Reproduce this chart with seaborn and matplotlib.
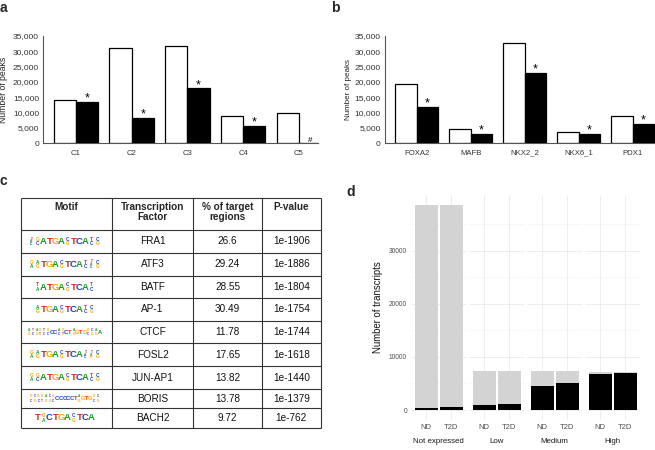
import numpy as np
import pandas as pd
import matplotlib
matplotlib.use("Agg")
import matplotlib.pyplot as plt
import seaborn as sns

# ---- data ----
clusters = ["C1", "C2", "C3", "C4", "C5"]
peaks_a_nd = [14250, 31000, 31750, 8900, 9750]
peaks_a_t2d = [13600, 8400, 17900, 5750, 0]
marks_a = ["*", "*", "*", "*", "#"]

tfs = ["FOXA2", "MAFB", "NKX2_2", "NKX6_1", "PDX1"]
peaks_b_nd = [19300, 4650, 32700, 3780, 8970]
peaks_b_t2d = [12000, 3130, 22900, 3130, 6370]
marks_b = ["*", "*", "*", "*", "*"]

motif_tf = ["FRA1", "ATF3", "BATF", "AP-1", "CTCF", "FOSL2", "JUN-AP1", "BORIS", "BACH2"]
motif_pct = ["26.6", "29.24", "28.55", "30.49", "11.78", "17.65", "13.82", "13.78", "9.72"]
motif_p = ["1e-1906", "1e-1886", "1e-1804", "1e-1754", "1e-1744", "1e-1618", "1e-1440", "1e-1379", "1e-762"]
# logo positions: one letter = dominant base, several letters = mixed position
motif_logos = [
    ["TAC", "GC", "A", "T", "G", "A", "CG", "T", "C", "A", "TC", "CG"],
    ["GA", "AG", "T", "G", "A", "CG", "T", "C", "A", "TC", "TAC", "CG"],
    ["TA", "A", "T", "G", "A", "CG", "T", "C", "A", "TC"],
    ["AG", "T", "G", "A", "CG", "T", "C", "A", "TC", "CG"],
    ["AG", "TC", "AG", "GT", "TC", "GC", "C", "C", "AC", "GT", "C", "T", "AG", "G", "T", "G", "GC", "CG", "AG", "A"],
    ["GA", "AG", "T", "G", "A", "CG", "T", "C", "A", "TAC", "TAG", "CG"],
    ["GA", "GC", "A", "T", "G", "A", "CG", "T", "C", "A", "TC", "CG"],
    ["GC", "CG", "GC", "GT", "AG", "CG", "GC", "C", "C", "C", "C", "C", "T", "AG", "G", "T", "G", "GC", "CG"],
    ["T", "GA", "C", "T", "G", "A", "CG", "T", "C", "A"],
]
logo_colors = {"A": "#1e9a2a", "C": "#1f3fc8", "G": "#f2a900", "T": "#e0231c"}

levels = ["Not expressed", "Low", "Medium", "High"]
conditions = ["ND", "T2D"]
total_tx = [38600, 7280, 7280, 7220]
bound_nd = [310, 880, 4460, 6780]
bound_t2d = [560, 1130, 5020, 6970]

W, H = 655, 450
sns.set_style("white")
plt.rcParams["font.family"] = ["Liberation Sans", "DejaVu Sans"]

fig = plt.figure(figsize=(W / 100, H / 100), dpi=100)


def px_axes(x0, y0, x1, y1):
    return fig.add_axes([x0 / W, 1 - y1 / H, (x1 - x0) / W, (y1 - y0) / H])


def peak_panel(ax, cats, nd, t2d, marks, xlim, ylab_x, fs_lab):
    df = pd.DataFrame({"cat": cats * 2, "grp": ["ND"] * len(cats) + ["T2D"] * len(cats),
                       "peaks": nd + t2d})
    sns.barplot(data=df, x="cat", y="peaks", hue="grp", palette=["white", "black"],
                edgecolor="black", linewidth=0.9, width=0.8, errorbar=None,
                legend=False, ax=ax)
    for i, (v, m) in enumerate(zip(t2d, marks)):
        ax.annotate(m, xy=(i + 0.2, v), xytext=(0, -2 if m == "*" else -0.5),
                    textcoords="offset points", ha="center", va="bottom",
                    fontsize=9 if m == "*" else 5.8, color="black")
    ax.set_ylim(0, 35000)
    ax.set_xlim(*xlim)
    ax.set_yticks(np.arange(0, 35001, 5000))
    ax.set_yticklabels([f"{t:,}" for t in range(0, 35001, 5000)])
    ax.set_xlabel("")
    ax.set_ylabel("Number of peaks", fontsize=fs_lab, color="#222222")
    ax.yaxis.set_label_coords(ylab_x, 0.5)
    sns.despine(ax=ax)
    for s in ["left", "bottom"]:
        ax.spines[s].set_color("#555555")
        ax.spines[s].set_linewidth(0.8)
    ax.tick_params(axis="y", length=2, width=0.6, pad=1, labelsize=6.1, colors="#555555",
                   labelcolor="#333333")
    ax.tick_params(axis="x", length=0, pad=4.5, labelsize=5.6, labelcolor="#333333")


# ---- panel a ----
ax_a = px_axes(43.3, 36, 318.3, 143.3)
peak_panel(ax_a, clusters, peaks_a_nd, peaks_a_t2d, marks_a, (-0.587, 4.35), -0.127, 6.2)

# ---- panel b ----
ax_b = px_axes(385, 36, 655, 143.3)
peak_panel(ax_b, tfs, peaks_b_nd, peaks_b_t2d, marks_b, (-0.587, 4.41), -0.122, 5.8)

# ---- panel d ----
ymin, ymax = -1930, 40530
for k, lev in enumerate(levels):
    left = 411.3 + 58 * k
    ax = px_axes(left, 194.8, left + 55, 420.3)
    sub = pd.DataFrame({"condition": conditions,
                        "total": [total_tx[k], total_tx[k]],
                        "bound": [bound_nd[k], bound_t2d[k]]})
    sns.barplot(data=sub, x="condition", y="total", color="#d3d3d3", width=0.9,
                linewidth=0, errorbar=None, ax=ax)
    sns.barplot(data=sub, x="condition", y="bound", color="black", width=0.9,
                linewidth=0, errorbar=None, ax=ax)
    ax.set_xlim(-0.6, 1.6)
    ax.set_ylim(ymin, ymax)
    ax.set_yticks([0, 10000, 20000, 30000])
    ax.set_yticks([5000, 15000, 25000, 35000], minor=True)
    ax.set_axisbelow(True)
    ax.grid(True, which="major", color="#ebebeb", linewidth=0.6)
    ax.grid(True, which="minor", axis="y", color="#f2f2f2", linewidth=0.4)
    ax.xaxis.grid(True, color="#ebebeb", linewidth=0.6)
    for s in ax.spines.values():
        s.set_visible(False)
    ax.tick_params(axis="both", which="both", length=0, labelcolor="#4d4d4d")
    ax.tick_params(axis="x", pad=3, labelsize=5.5)
    ax.tick_params(axis="y", pad=3, labelsize=4.7)
    ax.set_xlabel("")
    ax.text(0.5, -0.096, lev, transform=ax.transAxes, ha="center", va="center",
            fontsize=5.7, color="#1a1a1a")
    if k == 0:
        ax.set_yticklabels(["0", "10000", "20000", "30000"])
        ax.set_ylabel("Number of transcripts", fontsize=6.9, color="#111111")
        ax.yaxis.set_label_coords(-0.515, 0.5)
    else:
        ax.set_yticklabels([])
        ax.set_ylabel("")

# ---- overlay: panel letters and table c ----
ov = fig.add_axes([0, 0, 1, 1], zorder=-1)
ov.set_xlim(0, W)
ov.set_ylim(H, 0)
ov.axis("off")
for lab, (x, y) in zip("abcd", [(3.5, 8.5), (335.7, 7.5), (3.7, 180.7), (351, 192)]):
    ov.text(x, y, lab, fontsize=10, fontweight="bold", ha="center", va="center")

col_x = [20.7, 111.7, 193.3, 261.7, 321]
row_y = [197.7, 230, 252.7, 275.7, 298.3, 320.7, 343.3, 366, 389.3, 407.7, 428.3]
ov.hlines(row_y, col_x[0], col_x[-1], color="#333333", linewidth=0.8)
ov.vlines(col_x, row_y[0], row_y[-1], color="#333333", linewidth=0.8)

headers = ["Motif", "Transcription\nFactor", "% of target\nregions", "P-value"]
for j, h in enumerate(headers):
    ov.text((col_x[j] + col_x[j + 1]) / 2, 201.5, h, ha="center", va="top",
            fontsize=7.2, fontweight="bold", linespacing=1.1)


def draw_logo(tokens, xc, yc):
    long = len(tokens) > 15
    step = 3.7 if long else 6.0
    big = 4.2 if long else 6.8
    hgt = 8.5
    x0 = xc - step * (len(tokens) - 1) / 2
    for i, tok in enumerate(tokens):
        x = x0 + i * step
        if len(tok) == 1:
            ov.text(x, yc, tok, color=logo_colors[tok], fontsize=big, fontweight="bold",
                    ha="center", va="center")
        else:
            n = len(tok)
            fs = 3.4 if (n == 2 and not long) else 2.3
            for m, ch in enumerate(tok):
                ov.text(x, yc - hgt / 2 + hgt * (m + 0.5) / n, ch, color=logo_colors[ch],
                        fontsize=fs, fontweight="bold", ha="center", va="center")


for r in range(len(motif_tf)):
    yc = (row_y[r + 1] + row_y[r + 2]) / 2
    draw_logo(motif_logos[r], 64.5, yc)
    for j, txt in enumerate([motif_tf[r], motif_pct[r], motif_p[r]], start=1):
        ov.text((col_x[j] + col_x[j + 1]) / 2, yc, txt, ha="center", va="center",
                fontsize=7.2, color="#111111")

fig.savefig("out.png", dpi=100)
